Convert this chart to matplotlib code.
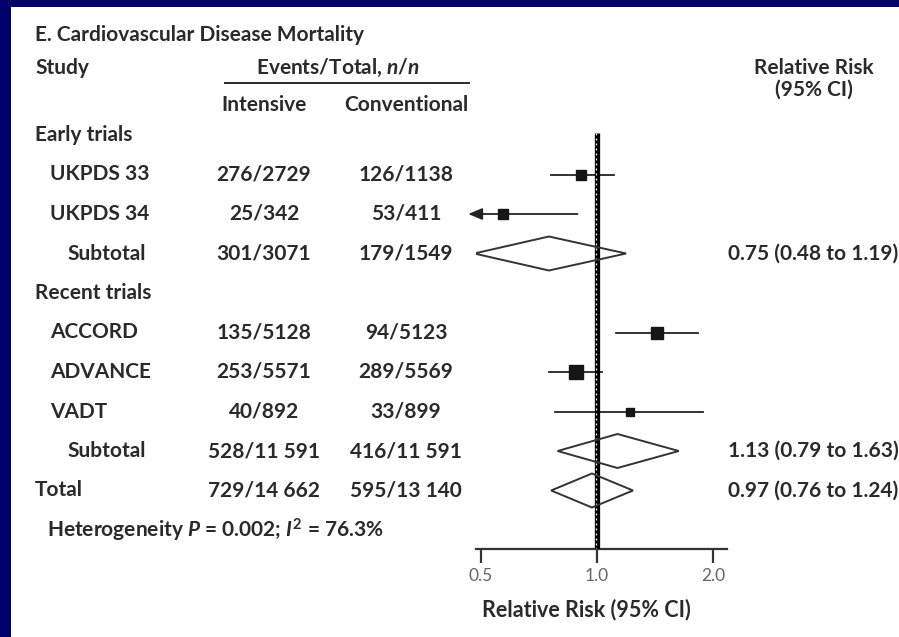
import numpy as np
import matplotlib
matplotlib.use("Agg")
import matplotlib.pyplot as plt
from matplotlib.patches import Polygon, Rectangle

plt.rcParams['font.family'] = ['Lato', 'DejaVu Sans']
plt.rcParams['font.weight'] = 'bold'
plt.rcParams['mathtext.fontset'] = 'custom'
plt.rcParams['mathtext.rm'] = 'Lato:bold'
plt.rcParams['mathtext.it'] = 'Lato:italic:bold'

# data
labels = ['Early trials', 'UKPDS 33', 'UKPDS 34', 'Subtotal',
          'Recent trials', 'ACCORD', 'ADVANCE', 'VADT', 'Subtotal', 'Total']
kinds = ['head', 'study', 'study', 'sub', 'head', 'study', 'study', 'study', 'sub', 'total']
intensive = ['', '276/2729', '25/342', '301/3071', '', '135/5128', '253/5571', '40/892',
             '528/11 591', '729/14 662']
conventional = ['', '126/1138', '53/411', '179/1549', '', '94/5123', '289/5569', '33/899',
                '416/11 591', '595/13 140']
rr = [np.nan, 0.91, 0.57, 0.75, np.nan, 1.43, 0.88, 1.22, 1.13, 0.97]
ci_lo = [np.nan, 0.76, 0.36, 0.48, np.nan, 1.12, 0.75, 0.78, 0.79, 0.76]
ci_hi = [np.nan, 1.11, 0.89, 1.19, np.nan, 1.83, 1.03, 1.88, 1.63, 1.24]
weight = [0, 7.2, 6.5, 0, 0, 8.6, 10.0, 5.8, 0, 0]
heterogeneity = 'Heterogeneity $P$ = 0.002; $I^2$ = 76.3%'

W, H = 899, 637
row0, rowh = 135, 39.5
ys = [row0 + rowh * i for i in range(len(labels))]
txt = '#2a2a2a'

fig = plt.figure(figsize=(W / 100, H / 100), dpi=100)
fig.patch.set_facecolor('#000068')

bg = fig.add_axes([0, 0, 1, 1])
bg.set_xlim(0, W)
bg.set_ylim(H, 0)
bg.axis('off')
bg.add_patch(Rectangle((11, 7), W, H, facecolor='white', edgecolor='none'))

fs = 15
col1, col2 = 264, 406
bg.text(35, 35, 'E. Cardiovascular Disease Mortality', fontsize=fs, color=txt, va='center')
bg.text(35, 68, 'Study', fontsize=fs, color=txt, va='center')
bg.text(338, 68, 'Events/Total, $n/n$', fontsize=fs, color=txt, va='center', ha='center')
bg.plot([225, 469], [83, 83], color=txt, lw=1.4)
bg.text(col1, 105, 'Intensive', fontsize=fs, color=txt, va='center', ha='center')
bg.text(col2, 105, 'Conventional', fontsize=fs, color=txt, va='center', ha='center')
bg.text(814, 68, 'Relative Risk', fontsize=fs, color=txt, va='center', ha='center')
bg.text(814, 90, '(95% CI)', fontsize=fs, color=txt, va='center', ha='center')

indent = {'head': 35, 'study': 50, 'sub': 67, 'total': 35}
for lab, k, a, b, y, m, lo, hi in zip(labels, kinds, intensive, conventional, ys, rr, ci_lo, ci_hi):
    bg.text(indent[k], y, lab, fontsize=fs, color=txt, va='center')
    bg.text(col1, y, a, fontsize=fs, color=txt, va='center', ha='center')
    bg.text(col2, y, b, fontsize=fs, color=txt, va='center', ha='center')
    if k in ('sub', 'total'):
        bg.text(728, y, f'{m:.2f} ({lo:.2f} to {hi:.2f})', fontsize=fs, color=txt, va='center')
bg.text(47, row0 + rowh * 10, heterogeneity, fontsize=fs, color=txt, va='center')

# forest panel, pixel based position
x0, x1, ytop, ybot = 476, 727, 133, 549
ax = fig.add_axes([x0 / W, 1 - ybot / H, (x1 - x0) / W, (ybot - ytop) / H])
ax.patch.set_alpha(0)
ax.set_xscale('log')
ax.set_xlim(0.485, 2.175)
ax.set_ylim(ybot, ytop)
for s in ['top', 'right', 'left']:
    ax.spines[s].set_visible(False)
ax.spines['bottom'].set_linewidth(1.6)
ax.spines['bottom'].set_color('#333333')
ax.minorticks_off()
ax.set_xticks([0.5, 1.0, 2.0])
ax.set_xticklabels(['0.5', '1.0', '2.0'], fontweight='normal', color='#666666', fontsize=12.5)
ax.tick_params(axis='x', length=10, width=1.6, color='#333333', pad=4)
ax.set_yticks([])

ax.plot([1, 1], [ytop, ybot], color='black', lw=3.8, solid_capstyle='butt', zorder=3)
ax.plot([0.9925, 0.9925], [ytop, ybot], color='white', lw=0.9, ls=(0, (1.5, 2.5)), zorder=4)

xmin = 0.463
for k, y, m, lo, hi, w in zip(kinds, ys, rr, ci_lo, ci_hi, weight):
    if k == 'study':
        if lo < ax.get_xlim()[0]:
            ax.annotate('', xy=(xmin, y), xytext=(hi, y), annotation_clip=False,
                        arrowprops=dict(arrowstyle='-|>,head_length=0.6,head_width=0.25',
                                        color='#222222', lw=1.3,
                                        mutation_scale=14, shrinkA=0, shrinkB=0))
        else:
            ax.plot([lo, hi], [y, y], color='#222222', lw=1.3, zorder=2)
        ax.plot(m, y, marker='s', ms=w, color='#151515', zorder=5)
    elif k in ('sub', 'total'):
        d = Polygon([(lo, y), (m, y - 17), (hi, y), (m, y + 17)], closed=True,
                    facecolor='none', edgecolor='#333333', lw=1.4, zorder=5)
        ax.add_patch(d)

fig.text(586 / W, 1 - 610 / H, 'Relative Risk (95% CI)', fontsize=15.5, color=txt,
         ha='center', va='center')

fig.savefig('out.png', dpi=100, facecolor=fig.get_facecolor())
